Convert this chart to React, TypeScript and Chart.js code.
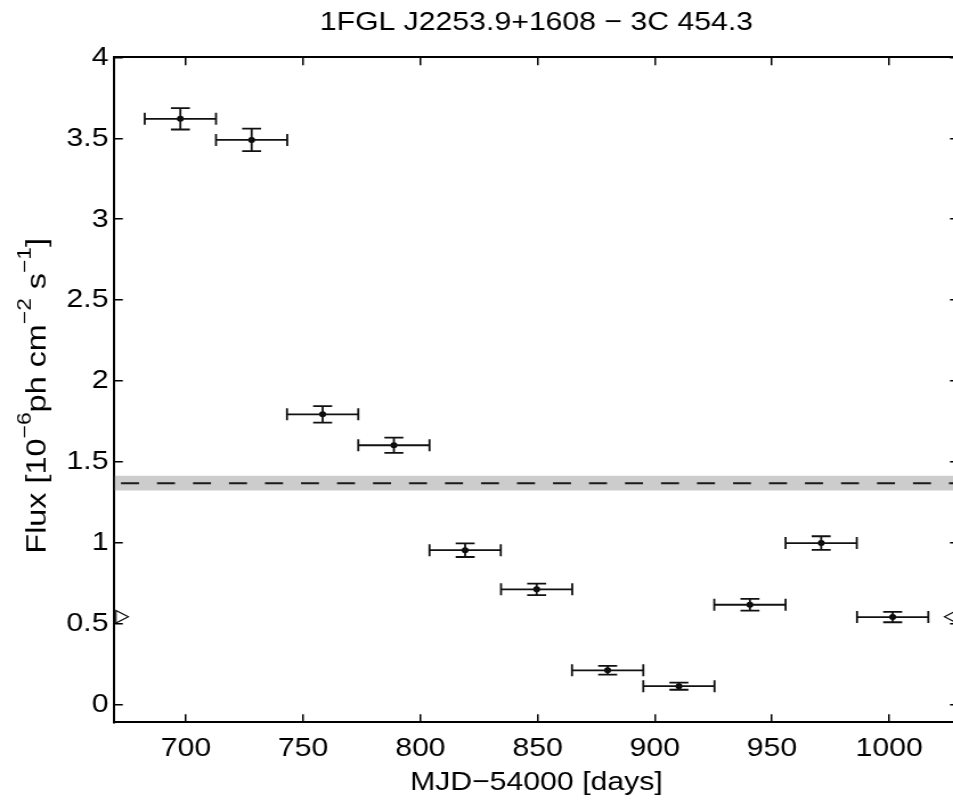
import React, { useEffect, useRef } from 'react';
import { Chart, registerables } from 'chart.js';

Chart.register(...registerables);

// ---------- data ----------
const TITLE = '1FGL J2253.9+1608 − 3C 454.3';
const X_LABEL = 'MJD−54000 [days]';
const Y_LABEL_PARTS: [string, boolean][] = [
  ['Flux [10', false],
  ['−6', true],
  ['ph cm', false],
  ['−2', true],
  [' s', false],
  ['−1', true],
  [']', false],
];

const MJD = [697.6, 728.0, 758.3, 788.7, 819.1, 849.6, 879.9, 910.3, 940.6, 971.0, 1001.5];
const MJD_HALF_BIN = [15.2, 15.2, 15.2, 15.2, 15.2, 15.2, 15.2, 15.2, 15.2, 15.2, 15.2];
const FLUX = [3.62, 3.49, 1.795, 1.604, 0.956, 0.714, 0.214, 0.116, 0.619, 1.0, 0.543];
const FLUX_ERR = [0.066, 0.07, 0.051, 0.047, 0.042, 0.035, 0.027, 0.022, 0.036, 0.042, 0.032];

const MEAN_FLUX = 1.37;
const MEAN_FLUX_ERR = 0.046;

const MARKER_X = [671.9, 1027.1];
const MARKER_Y = [0.545, 0.545];
const MARKER_ROTATION = [90, -90];

const X_RANGE = [669.5, 1029.5];
const Y_RANGE = [-0.107, 4];
const X_TICKS = [700, 750, 800, 850, 900, 950, 1000];
const X_TICK_LABELS = ['700', '750', '800', '850', '900', '950', '1000'];
const Y_TICKS = [0, 0.5, 1, 1.5, 2, 2.5, 3, 3.5, 4];
const Y_TICK_LABELS = ['0', '0.5', '1', '1.5', '2', '2.5', '3', '3.5', '4'];

// ---------- layout / style ----------
const SX = 1.14; // horizontal font stretch of the original export
const CW = 850;
const CH = 801;
const FONT = "'Liberation Sans', Arial, Helvetica, sans-serif";
const FS = 26.5;

const errorBarPlugin = {
  id: 'errorBars',
  afterDatasetsDraw(chart: any) {
    const { ctx } = chart;
    const x = chart.scales.x;
    const y = chart.scales.y;
    const xCap = 6;
    const yCap = 9.5 / SX;
    ctx.save();
    ctx.strokeStyle = '#111';
    ctx.lineWidth = 1.8;
    ctx.beginPath();
    for (let i = 0; i < MJD.length; i++) {
      const cx = x.getPixelForValue(MJD[i]);
      const cy = y.getPixelForValue(FLUX[i]);
      const xl = x.getPixelForValue(MJD[i] - MJD_HALF_BIN[i]);
      const xr = x.getPixelForValue(MJD[i] + MJD_HALF_BIN[i]);
      const yt = y.getPixelForValue(FLUX[i] + FLUX_ERR[i]);
      const yb = y.getPixelForValue(FLUX[i] - FLUX_ERR[i]);
      ctx.moveTo(xl, cy); ctx.lineTo(xr, cy);
      ctx.moveTo(xl, cy - xCap); ctx.lineTo(xl, cy + xCap);
      ctx.moveTo(xr, cy - xCap); ctx.lineTo(xr, cy + xCap);
      ctx.moveTo(cx, yt); ctx.lineTo(cx, yb);
      ctx.moveTo(cx - yCap, yt); ctx.lineTo(cx + yCap, yt);
      ctx.moveTo(cx - yCap, yb); ctx.lineTo(cx + yCap, yb);
    }
    ctx.stroke();
    ctx.restore();
  },
};

const yLabelPlugin = {
  id: 'yLabel',
  afterDraw(chart: any) {
    const { ctx } = chart;
    const along = 1.2;
    const baseFont = `${FS + 0.5}px ${FONT}`;
    const supFont = `19px ${FONT}`;
    const supRaise = 15;
    ctx.save();
    let total = 0;
    const widths: number[] = [];
    for (const [t, sup] of Y_LABEL_PARTS) {
      ctx.font = sup ? supFont : baseFont;
      const w = ctx.measureText(t).width;
      widths.push(w);
      total += w;
    }
    const cy = (chart.chartArea.top + chart.chartArea.bottom) / 2 + 6;
    ctx.translate(46 / SX, cy);
    ctx.rotate(-Math.PI / 2);
    ctx.scale(along, 1 / SX);
    ctx.fillStyle = '#000';
    ctx.textBaseline = 'alphabetic';
    ctx.textAlign = 'left';
    let pos = -total / 2;
    Y_LABEL_PARTS.forEach(([t, sup], i) => {
      ctx.font = sup ? supFont : baseFont;
      ctx.fillText(t, pos, sup ? -supRaise : 0);
      pos += widths[i];
    });
    ctx.restore();
  },
};

const inwardGrid = (len: number) => ({
  drawOnChartArea: false,
  drawTicks: true,
  tickLength: -len,
  color: '#000',
  lineWidth: 1.5,
});

const border = { display: true, color: '#000', width: 2 };

export default function App() {
  const ref = useRef<HTMLCanvasElement>(null);

  useEffect(() => {
    if (!ref.current) return;
    const chart = new Chart(ref.current, {
      type: 'scatter',
      data: {
        datasets: [
          {
            label: 'flux',
            data: MJD.map((m, i) => ({ x: m, y: FLUX[i] })),
            pointRadius: 3,
            pointBackgroundColor: '#000',
            pointBorderWidth: 0,
            showLine: false,
          },
          {
            label: 'markers',
            data: MARKER_X.map((m, i) => ({ x: m, y: MARKER_Y[i] })),
            pointStyle: 'triangle',
            rotation: MARKER_ROTATION,
            pointRadius: 7.2,
            pointBackgroundColor: 'rgba(255,255,255,0)',
            pointBorderColor: '#000',
            pointBorderWidth: 1.1,
            showLine: false,
            clip: false,
          } as any,
          {
            label: 'mean',
            data: X_RANGE.map((m) => ({ x: m, y: MEAN_FLUX })),
            showLine: true,
            borderColor: '#1a1a1a',
            borderWidth: 2,
            borderDash: [18 / SX, 18 / SX],
            borderDashOffset: 29.5 / SX,
            pointRadius: 0,
          },
          {
            label: 'band',
            data: X_RANGE.map((m) => ({ x: m, y: MEAN_FLUX + MEAN_FLUX_ERR })),
            showLine: true,
            borderWidth: 0,
            borderColor: 'rgba(0,0,0,0)',
            backgroundColor: '#cccccc',
            fill: { value: MEAN_FLUX - MEAN_FLUX_ERR },
            pointRadius: 0,
          } as any,
        ],
      },
      options: {
        animation: false,
        responsive: false,
        events: [],
        font: { family: FONT, size: FS } as any,
        layout: { padding: { left: 0, right: CW - 958.3 / SX, top: 0, bottom: 0 }, autoPadding: false } as any,
        plugins: {
          legend: { display: false },
          tooltip: { enabled: false },
          title: {
            display: true,
            text: TITLE,
            color: '#000',
            font: { family: FONT, size: FS, weight: 'normal' },
            padding: { top: 7.2, bottom: 18.3 },
            fullSize: false,
          } as any,
        },
        scales: {
          x: {
            type: 'linear',
            position: 'bottom',
            min: X_RANGE[0],
            max: X_RANGE[1],
            afterBuildTicks: (s: any) => { s.ticks = X_TICKS.map((v) => ({ value: v })); },
            afterFit: (s: any) => { s.height = CH - 722.3; },
            ticks: {
              color: '#000',
              font: { family: FONT, size: FS },
              padding: 18.9,
              maxRotation: 0,
              autoSkip: false,
              callback: (v: any) => X_TICK_LABELS[X_TICKS.indexOf(Number(v))] ?? '',
            },
            grid: inwardGrid(8),
            border,
            title: {
              display: true,
              text: X_LABEL,
              color: '#000',
              font: { family: FONT, size: FS },
              padding: { top: 0, bottom: 2 },
            },
          },
          y: {
            type: 'linear',
            position: 'left',
            min: Y_RANGE[0],
            max: Y_RANGE[1],
            afterBuildTicks: (s: any) => { s.ticks = Y_TICKS.map((v) => ({ value: v })); },
            afterFit: (s: any) => { s.width = 114.5 / SX; },
            ticks: {
              color: '#000',
              font: { family: FONT, size: FS },
              padding: 12.6,
              autoSkip: false,
              callback: (v: any) => Y_TICK_LABELS[Y_TICKS.indexOf(Number(v))] ?? '',
            },
            grid: inwardGrid(8.3 / SX),
            border,
            title: { display: false },
          },
          x2: {
            axis: 'x',
            type: 'linear',
            position: 'top',
            min: X_RANGE[0],
            max: X_RANGE[1],
            afterBuildTicks: (s: any) => { s.ticks = X_TICKS.map((v) => ({ value: v })); },
            afterFit: (s: any) => { s.height = 0; },
            ticks: { display: false },
            grid: inwardGrid(8),
            border,
          },
          y2: {
            axis: 'y',
            type: 'linear',
            position: 'right',
            min: Y_RANGE[0],
            max: Y_RANGE[1],
            afterBuildTicks: (s: any) => { s.ticks = Y_TICKS.map((v) => ({ value: v })); },
            afterFit: (s: any) => { s.width = 0; },
            ticks: { display: false },
            grid: inwardGrid(8.3 / SX),
            border,
          },
        } as any,
      },
      plugins: [errorBarPlugin, yLabelPlugin],
    } as any);
    return () => chart.destroy();
  }, []);

  return (
    <div
      style={{
        position: 'fixed',
        left: 0,
        top: 0,
        width: 953,
        height: 801,
        overflow: 'hidden',
        background: '#fff',
      }}
    >
      <div style={{ width: CW, height: CH, transform: `scaleX(${SX})`, transformOrigin: '0 0' }}>
        <canvas ref={ref} width={CW} height={CH} style={{ display: 'block', width: CW, height: CH }} />
      </div>
    </div>
  );
}
